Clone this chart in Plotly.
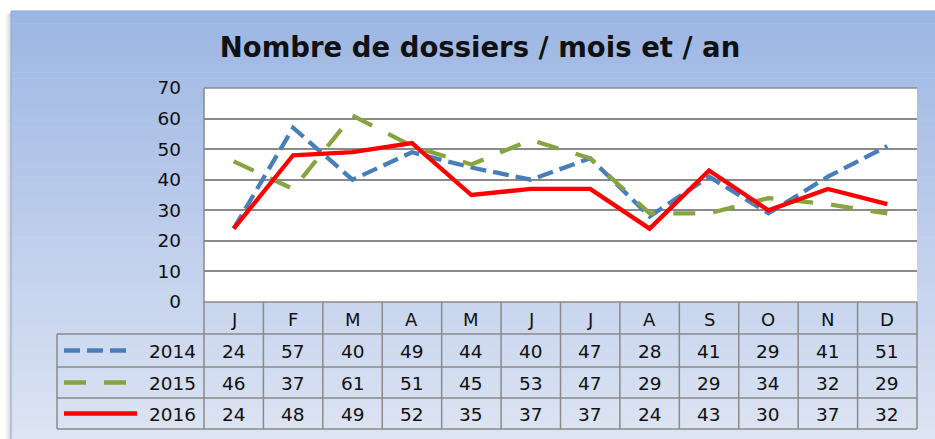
import plotly.graph_objects as go

# ---------------- data ----------------
months = ["J", "F", "M", "A", "M", "J", "J", "A", "S", "O", "N", "D"]
years = ["2014", "2015", "2016"]
v2014 = [24, 57, 40, 49, 44, 40, 47, 28, 41, 29, 41, 51]
v2015 = [46, 37, 61, 51, 45, 53, 47, 29, 29, 34, 32, 29]
v2016 = [24, 48, 49, 52, 35, 37, 37, 24, 43, 30, 37, 32]
y_ticks = [0, 10, 20, 30, 40, 50, 60, 70]
title_text = "Nombre de dossiers / mois et / an"

# ---------------- geometry (pixels) ----------------
W, H = 935, 439
PX0, PX1 = 204, 917          # plot area left / right
PY_TOP, PY_BOT = 88, 302     # plot area top (70) / bottom (0)
TBL_LEFT = 57
ROW_Y = [302, 334, 367, 398, 429]
FONT = "DejaVu Sans"
GRID = "#8a8a8a"

def px(x):
    return x / W

def py(y):
    return 1 - y / H

series = [
    (years[0], v2014, "#4a7ebb", "16px,7px"),
    (years[1], v2015, "#86a440", "22px,18px"),
    (years[2], v2016, "#ff0000", "solid"),
]

fig = go.Figure()
xs = list(range(len(months)))
for name, vals, color, dash in series:
    fig.add_trace(go.Scatter(
        x=xs, y=vals, mode="lines", name=name,
        line=dict(color=color, width=4.3, dash=dash),
        showlegend=False, hoverinfo="skip",
    ))

shapes = []
# gradient background bands
top_c = (156, 182, 227)
bot_c = (221, 228, 243)
y0, y1 = 11, H
n = 70
for i in range(n):
    a = y0 + (y1 - y0) * i / n
    b = y0 + (y1 - y0) * (i + 1) / n + 0.6
    t = (i + 0.5) / n
    c = tuple(round(top_c[k] + (bot_c[k] - top_c[k]) * t) for k in range(3))
    shapes.append(dict(type="rect", xref="paper", yref="paper", layer="below",
                       x0=px(11), x1=1.0, y0=py(min(b, H)), y1=py(a),
                       fillcolor=f"rgb{c}", line=dict(width=0)))
# left shadow
shapes.append(dict(type="rect", xref="paper", yref="paper", layer="below",
                   x0=px(6), x1=px(11), y0=0, y1=py(14),
                   fillcolor="rgba(0,0,0,0.06)", line=dict(width=0)))
shapes.append(dict(type="rect", xref="paper", yref="paper", layer="below",
                   x0=px(8.5), x1=px(11), y0=0, y1=py(13),
                   fillcolor="rgba(0,0,0,0.07)", line=dict(width=0)))
# outer border
shapes.append(dict(type="line", xref="paper", yref="paper", layer="below",
                   x0=px(11), x1=1.0, y0=py(11), y1=py(11),
                   line=dict(color="rgb(140,166,216)", width=1.2)))
shapes.append(dict(type="line", xref="paper", yref="paper", layer="below",
                   x0=px(11), x1=px(11), y0=0, y1=py(11),
                   line=dict(color="rgb(150,172,216)", width=1.2)))
# white plot area
shapes.append(dict(type="rect", xref="paper", yref="paper", layer="below",
                   x0=px(PX0), x1=px(PX1), y0=py(PY_BOT), y1=py(PY_TOP),
                   fillcolor="white", line=dict(width=0)))

# table lines
colw = (PX1 - PX0) / len(months)
for yy in ROW_Y:
    left = PX0 if yy == ROW_Y[0] else TBL_LEFT
    shapes.append(dict(type="line", xref="paper", yref="paper",
                       x0=px(left), x1=px(PX1), y0=py(yy), y1=py(yy),
                       line=dict(color=GRID, width=1.5)))
shapes.append(dict(type="line", xref="paper", yref="paper",
                   x0=px(TBL_LEFT), x1=px(TBL_LEFT), y0=py(ROW_Y[1]), y1=py(ROW_Y[-1]),
                   line=dict(color=GRID, width=1.5)))
for k in range(len(months) + 1):
    xx = PX0 + k * colw
    top = PY_TOP if k == 0 else ROW_Y[0]
    shapes.append(dict(type="line", xref="paper", yref="paper",
                       x0=px(xx), x1=px(xx), y0=py(top), y1=py(ROW_Y[-1]),
                       line=dict(color=GRID, width=1.5)))
# top border of plot
shapes.append(dict(type="line", xref="paper", yref="paper",
                   x0=px(PX0), x1=px(PX1), y0=py(PY_TOP), y1=py(PY_TOP),
                   line=dict(color=GRID, width=1.5)))

annotations = []
# month header
for i, m in enumerate(months):
    annotations.append(dict(x=px(PX0 + colw * (i + 0.5)), y=py((ROW_Y[0] + ROW_Y[1]) / 2 + 1),
                            xref="paper", yref="paper", text=m, showarrow=False,
                            xanchor="center", yanchor="middle",
                            font=dict(family=FONT, size=18, color="#111")))
# data rows + legend keys
key_len = [66, 66, 73]
for r, (name, vals, color, dash) in enumerate(series):
    yc = (ROW_Y[r + 1] + ROW_Y[r + 2]) / 2
    for i, v in enumerate(vals):
        annotations.append(dict(x=px(PX0 + colw * (i + 0.5)), y=py(yc + 1),
                                xref="paper", yref="paper", text=str(v), showarrow=False,
                                xanchor="center", yanchor="middle",
                                font=dict(family=FONT, size=18.5, color="#111")))
    annotations.append(dict(x=px(198), y=py(yc + 1), xref="paper", yref="paper",
                            text=name, showarrow=False, xanchor="right", yanchor="middle",
                            font=dict(family=FONT, size=18.5, color="#111")))
    shapes.append(dict(type="line", xref="paper", yref="paper",
                       x0=px(64), x1=px(64 + key_len[r]), y0=py(yc), y1=py(yc),
                       line=dict(color=color, width=4.3, dash=dash)))

fig.update_layout(
    template="none",
    width=W, height=H,
    autosize=False,
    margin=dict(l=0, r=0, t=0, b=0, pad=0, autoexpand=False),
    paper_bgcolor="white",
    plot_bgcolor="rgba(0,0,0,0)",
    title=dict(text=title_text, x=480 / W, y=py(47), xref="paper", yref="paper",
               xanchor="center", yanchor="middle", automargin=False,
               font=dict(family=FONT, size=27.5, color="#111", weight="bold")),
    xaxis=dict(domain=[px(PX0), px(PX1)], range=[-0.5, len(months) - 0.5],
               showgrid=False, showticklabels=False, zeroline=False, showline=False,
               ticks="", automargin=False, fixedrange=True),
    yaxis=dict(domain=[py(PY_BOT), py(PY_TOP)], range=[0, 70], tickvals=y_ticks,
               ticktext=[str(t) for t in y_ticks],
               showgrid=True, gridcolor=GRID, gridwidth=1.5,
               zeroline=False, showline=False, ticks="",
               ticklabelstandoff=22, automargin=False,
               tickfont=dict(family=FONT, size=18.5, color="#111"),
               fixedrange=True),
    shapes=shapes,
    annotations=annotations,
)

fig.write_html(
    "out.html",
    config={"displayModeBar": False, "responsive": False},
    post_script="document.body.style.margin='0';document.body.style.overflow='hidden';",
)
